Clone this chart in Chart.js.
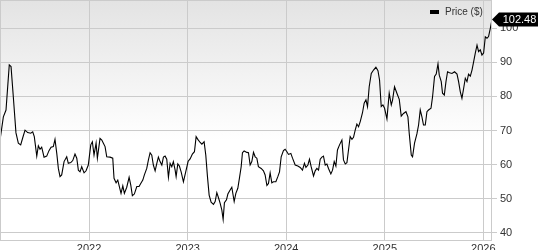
<!DOCTYPE html>
<html>
<head>
<meta charset="utf-8">
<script src="https://cdn.jsdelivr.net/npm/chart.js@4.4.1/dist/chart.umd.min.js"></script>
<style>
  html, body { margin: 0; padding: 0; background: #fff; }
  #wrap { width: 538px; height: 250px; position: relative; }
</style>
</head>
<body>
<div id="wrap"><canvas id="price_chart"></canvas></div>
<script>
// weekly closes, x as decimal year
var dates = [
  2021.096, 2021.130, 2021.157, 2021.190, 2021.208, 2021.231, 2021.258, 2021.282, 2021.306, 2021.326,
  2021.350, 2021.377, 2021.408, 2021.428, 2021.444, 2021.469, 2021.485, 2021.502, 2021.519, 2021.543,
  2021.570, 2021.593, 2021.614, 2021.637, 2021.654, 2021.672, 2021.688, 2021.705, 2021.722, 2021.746,
  2021.773, 2021.789, 2021.814, 2021.834, 2021.857, 2021.875, 2021.891, 2021.908, 2021.925, 2021.949,
  2021.969, 2021.992, 2022.017, 2022.033, 2022.050, 2022.071, 2022.084, 2022.111, 2022.129, 2022.145,
  2022.162, 2022.179, 2022.213, 2022.240, 2022.253, 2022.274, 2022.291, 2022.307, 2022.324, 2022.342,
  2022.358, 2022.382, 2022.406, 2022.423, 2022.439, 2022.459, 2022.484, 2022.507, 2022.524, 2022.545,
  2022.561, 2022.585, 2022.602, 2022.619, 2022.636, 2022.652, 2022.670, 2022.687, 2022.703, 2022.720,
  2022.738, 2022.754, 2022.771, 2022.788, 2022.805, 2022.822, 2022.839, 2022.855, 2022.873, 2022.883,
  2022.900, 2022.916, 2022.934, 2022.957, 2022.981, 2023.005, 2023.025, 2023.048, 2023.069, 2023.086,
  2023.103, 2023.127, 2023.144, 2023.167, 2023.184, 2023.201, 2023.218, 2023.238, 2023.262, 2023.279,
  2023.296, 2023.312, 2023.330, 2023.347, 2023.360, 2023.373, 2023.394, 2023.408, 2023.431, 2023.448,
  2023.472, 2023.489, 2023.509, 2023.525, 2023.543, 2023.556, 2023.573, 2023.601, 2023.617, 2023.634,
  2023.651, 2023.668, 2023.685, 2023.702, 2023.718, 2023.746, 2023.769, 2023.786, 2023.804, 2023.820,
  2023.837, 2023.854, 2023.871, 2023.895, 2023.915, 2023.932, 2023.949, 2023.972, 2023.989, 2024.007,
  2024.023, 2024.047, 2024.064, 2024.091, 2024.118, 2024.142, 2024.165, 2024.185, 2024.200, 2024.220,
  2024.236, 2024.253, 2024.277, 2024.294, 2024.311, 2024.328, 2024.345, 2024.362, 2024.378, 2024.396,
  2024.413, 2024.429, 2024.453, 2024.470, 2024.487, 2024.504, 2024.520, 2024.541, 2024.565, 2024.581,
  2024.599, 2024.616, 2024.632, 2024.649, 2024.667, 2024.683, 2024.700, 2024.717, 2024.734, 2024.751,
  2024.774, 2024.791, 2024.809, 2024.825, 2024.842, 2024.863, 2024.886, 2024.910, 2024.931, 2024.947,
  2024.964, 2024.981, 2024.998, 2025.022, 2025.045, 2025.066, 2025.079, 2025.099, 2025.123, 2025.147,
  2025.167, 2025.190, 2025.215, 2025.235, 2025.248, 2025.269, 2025.282, 2025.302, 2025.326, 2025.343,
  2025.360, 2025.377, 2025.393, 2025.411, 2025.428, 2025.444, 2025.469, 2025.485, 2025.505, 2025.522,
  2025.540, 2025.553, 2025.573, 2025.586, 2025.604, 2025.621, 2025.637, 2025.657, 2025.682, 2025.708,
  2025.733, 2025.749, 2025.766, 2025.783, 2025.800, 2025.817, 2025.834, 2025.850, 2025.868, 2025.885,
  2025.901, 2025.918, 2025.936, 2025.952, 2025.969, 2025.986, 2026.003, 2026.020, 2026.037, 2026.053,
  2026.071, 2026.088
];

var prices = [
  67.2, 74.0, 76.0, 89.2, 88.7, 79.9, 69.3, 66.3, 65.8, 67.8,
  70.1, 69.4, 69.2, 69.6, 68.2, 62.5, 65.5, 64.5, 65.1, 62.2,
  62.5, 64.1, 65.1, 65.3, 67.4, 63.3, 58.9, 56.5, 57.0, 60.9,
  62.3, 60.4, 60.6, 61.2, 63.1, 61.9, 58.4, 57.9, 59.4, 57.6,
  58.2, 59.9, 65.8, 66.7, 62.8, 66.3, 61.9, 67.7, 67.2, 66.3,
  65.3, 62.3, 62.2, 61.9, 56.0, 54.7, 55.5, 53.6, 51.6, 53.8,
  51.6, 53.4, 56.3, 54.0, 50.9, 51.4, 53.6, 53.6, 54.5, 55.5,
  57.0, 58.9, 61.4, 63.5, 62.8, 59.9, 58.2, 60.4, 62.2, 60.9,
  59.9, 62.2, 62.5, 61.6, 56.3, 60.4, 59.4, 60.9, 58.4, 56.5,
  60.2, 59.6, 57.9, 55.0, 58.0, 61.0, 61.7, 63.1, 63.8, 68.2,
  67.4, 66.5, 66.0, 66.7, 62.8, 56.5, 51.1, 49.0, 48.4, 49.2,
  51.8, 50.4, 48.7, 46.7, 44.0, 48.9, 49.7, 51.4, 52.6, 53.4,
  49.2, 51.6, 53.1, 56.0, 59.4, 63.5, 64.0, 63.6, 63.5, 59.9,
  60.9, 63.6, 62.3, 61.9, 59.4, 58.9, 58.2, 57.0, 53.9, 54.5,
  57.6, 54.7, 55.0, 55.0, 56.5, 57.9, 62.3, 64.1, 64.5, 63.8,
  63.0, 63.3, 61.9, 59.9, 59.6, 59.2, 58.4, 60.4, 59.2, 59.9,
  61.6, 59.4, 56.7, 58.2, 58.9, 58.4, 61.6, 62.2, 62.5, 59.9,
  60.2, 58.9, 57.3, 58.4, 60.9, 59.6, 64.3, 65.8, 67.2, 61.4,
  60.2, 60.6, 64.3, 68.2, 67.4, 68.0, 70.1, 71.9, 71.1, 72.6,
  75.2, 78.0, 79.0, 77.0, 82.8, 86.7, 87.7, 88.5, 87.5, 84.8,
  77.0, 77.5, 76.5, 73.4, 80.9, 77.5, 78.9, 82.8, 80.9, 79.1,
  74.2, 75.0, 75.5, 74.0, 69.2, 62.8, 62.3, 66.3, 69.0, 71.6,
  76.0, 74.0, 71.6, 71.6, 75.5, 76.0, 76.5, 79.9, 85.8, 86.5,
  89.5, 86.2, 84.3, 80.9, 80.4, 84.3, 87.2, 86.9, 86.7, 87.2,
  86.5, 84.3, 81.4, 79.4, 82.3, 85.3, 84.3, 86.5, 85.9, 87.7,
  90.0, 92.6, 95.0, 93.1, 93.6, 92.1, 92.7, 97.4, 97.0, 97.5,
  99.9, 102.48
];

var yearTicks = [2022, 2023, 2024, 2025, 2026];
var priceTicks = [40, 50, 60, 70, 80, 90, 100];
var seriesLabel = 'Price ($)';

var gridColor = '#cbcbcb';
var textColor = '#333333';
var fontFamily = '"Liberation Sans", Arial, sans-serif';

var points = dates.map(function (d, i) { return { x: d, y: prices[i] }; });

// gradient panel, frame, legend and last-price tag ====================================
var panelPlugin = {
    id: 'panel',
    beforeDraw: function (chart) {
        var ctx = chart.ctx, a = chart.chartArea;
        ctx.save();
        ctx.fillStyle = '#ffffff';
        ctx.fillRect(0, 0, chart.width, chart.height);
        var g = ctx.createLinearGradient(0, a.top, 0, a.top + 140);
        g.addColorStop(0, '#e3e3e3');
        g.addColorStop(1, '#ffffff');
        ctx.fillStyle = g;
        ctx.fillRect(a.left, a.top, a.right - a.left, a.bottom - a.top);
        ctx.restore();
    },
    afterDraw: function (chart) {
        var ctx = chart.ctx, a = chart.chartArea;
        ctx.save();
        ctx.strokeStyle = gridColor;
        ctx.lineWidth = 1;
        ctx.strokeRect(a.left + 0.5, a.top + 0.5, a.right - a.left - 1, a.bottom - a.top);

        // legend
        ctx.fillStyle = '#000';
        ctx.fillRect(430, 10, 9, 4);
        ctx.fillStyle = textColor;
        ctx.font = '10px ' + fontFamily;
        ctx.textBaseline = 'middle';
        ctx.textAlign = 'left';
        ctx.fillText(seriesLabel, 445, 12.5);

        // last price tag
        var meta = chart.getDatasetMeta(0);
        var last = meta.data[meta.data.length - 1];
        var tx = last.x, ty = last.y;
        var h = 14;
        ctx.fillStyle = '#000';
        ctx.beginPath();
        ctx.moveTo(tx, ty);
        ctx.lineTo(tx + 7, ty - h / 2);
        ctx.lineTo(chart.width, ty - h / 2);
        ctx.lineTo(chart.width, ty + h / 2);
        ctx.lineTo(tx + 7, ty + h / 2);
        ctx.closePath();
        ctx.fill();
        ctx.fillStyle = '#fff';
        ctx.font = '11px ' + fontFamily;
        ctx.textAlign = 'center';
        ctx.fillText(prices[prices.length - 1].toFixed(2), (tx + 7 + chart.width) / 2 + 1, ty + 0.5);
        ctx.restore();
    }
};

var ctx = document.getElementById('price_chart').getContext('2d');
var priceChart = new Chart(ctx, {
    type: 'line',
    data: {
        datasets: [{
            label: seriesLabel,
            data: points,
            borderColor: '#000000',
            borderWidth: 1.1,
            pointRadius: 0,
            tension: 0,
            fill: false
        }]
    },
    options: {
        responsive: true,
        maintainAspectRatio: false,
        animation: false,
        layout: { padding: 0 },
        plugins: {
            legend: { display: false },
            tooltip: { enabled: false }
        },
        scales: {
            x: {
                type: 'linear',
                min: dates[0],
                max: dates[dates.length - 1],
                afterBuildTicks: function (scale) {
                    scale.ticks = yearTicks.map(function (v) { return { value: v }; });
                },
                afterFit: function (scale) {
                    scale.height = 10;
                    scale.paddingLeft = 0;
                    scale.paddingRight = 0;
                },
                grid: { color: gridColor, tickLength: 0, drawTicks: false },
                border: { display: false },
                ticks: {
                    color: textColor,
                    font: { family: fontFamily, size: 11 },
                    padding: 2,
                    maxRotation: 0,
                    callback: function (v) { return String(v); }
                }
            },
            y: {
                position: 'right',
                min: 37.95,
                max: 108.2,
                afterBuildTicks: function (scale) {
                    scale.ticks = priceTicks.map(function (v) { return { value: v }; });
                },
                afterFit: function (scale) {
                    scale.width = 46;
                    scale.paddingTop = 0;
                    scale.paddingBottom = 0;
                },
                grid: { color: gridColor, tickLength: 5 },
                border: { display: false },
                ticks: {
                    color: textColor,
                    font: { family: fontFamily, size: 11 },
                    padding: 3,
                    callback: function (v) { return String(v); }
                }
            }
        }
    },
    plugins: [panelPlugin]
});
</script>
</body>
</html>
